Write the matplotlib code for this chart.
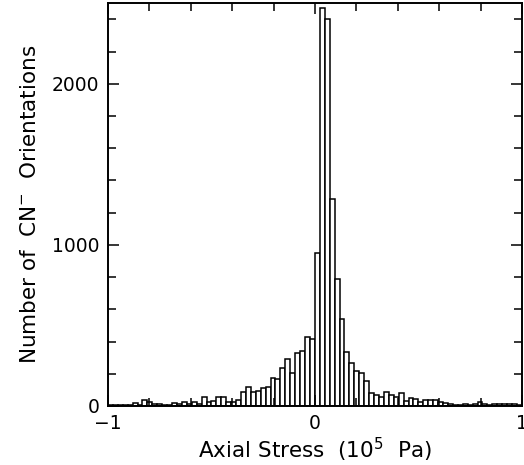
"""Histogram of CN- orientations versus axial stress"""
import numpy as np
import matplotlib
matplotlib.use('Agg')
import matplotlib.pyplot as plt
from matplotlib.ticker import MultipleLocator, FixedLocator

# bin edges: 84 bins of 1/42 from -1 to 1
bin_lo = -1.0
bin_hi = 1.0
n_bins = 84

# counts per bin (left to right)
counts_left_tail = [3, 3, 5, 5, 8, 18, 8, 40, 22, 10, 12, 8, 5, 20, 15, 25, 15, 22, 10,
                    55, 22, 33, 58]
counts_core = [58, 25, 22, 40, 89, 116, 85, 93, 110, 120, 176, 170, 238, 292, 203,
               331, 344, 427, 414, 950, 2470, 2400, 1285, 790, 540, 337, 265, 217,
               207, 155, 79, 68, 58, 89, 68, 58, 79, 33, 48, 45, 22]
counts_right_tail = [35, 40, 35, 27, 18, 10, 6, 5, 10, 8, 15, 22, 12, 6, 10, 10, 12,
                     15, 10, 5]

edges = np.linspace(bin_lo, bin_hi, n_bins + 1)
counts = np.array(counts_left_tail + counts_core + counts_right_tail)

plt.rcParams['font.family'] = ['DejaVu Sans']
plt.rcParams['mathtext.fontset'] = 'dejavusans'

fig = plt.figure(figsize=(5.24, 4.65), dpi=100)
ax = fig.add_axes([0.206, 0.127, 0.790, 0.866])

ax.bar(edges[:-1], counts, width=np.diff(edges), align='edge',
       facecolor='white', edgecolor='black', linewidth=1.1)

ax.set_xlim(-1, 1)
ax.set_ylim(0, 2500)
ax.xaxis.set_major_locator(FixedLocator([-1, 0, 1]))
ax.xaxis.set_minor_locator(MultipleLocator(0.2))
ax.yaxis.set_major_locator(MultipleLocator(1000))
ax.yaxis.set_minor_locator(MultipleLocator(200))
ax.set_xticklabels(['\u22121', '0', '1'])

ax.tick_params(which='both', direction='in', top=True, right=True,
               width=1.1, labelsize=13.5, pad=6)
ax.tick_params(which='major', length=8)
ax.tick_params(which='minor', length=6)
for s in ax.spines.values():
    s.set_linewidth(1.4)

ax.set_xlabel('Axial Stress  (10$^5$  Pa)', fontsize=15.5, labelpad=2)
ax.set_ylabel('Number of  CN$^{-}$  Orientations', fontsize=15.5, labelpad=9)

fig.savefig('out.png', dpi=100)
plt.close(fig)
